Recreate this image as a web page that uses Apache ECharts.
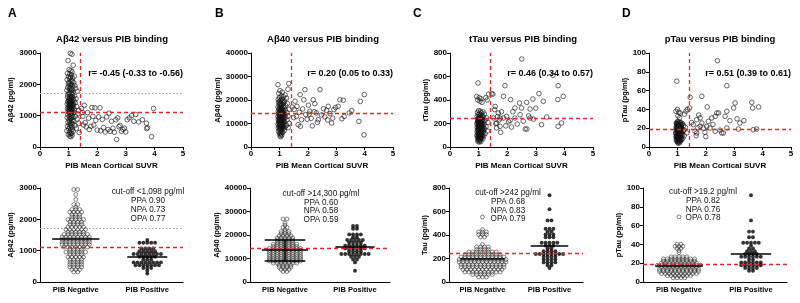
<!DOCTYPE html>
<html>
<head>
<meta charset="utf-8">
<script src="https://cdn.jsdelivr.net/npm/echarts@6/dist/echarts.min.js"></script>
<style>
html, body { margin: 0; padding: 0; background: #fff; }
#chart { width: 800px; height: 303px; }
</style>
</head>
<body>
<div id="chart"></div>
<script>
// ---- data: [PIB SUVR, value] ----
var ab42Neg = [[1.06,2990],[1.12,2960],[0.98,2760],[1.16,2610],[1.02,2470],[1.08,2440],[1.12,2400],[0.96,2350],[1.04,2330],[1.10,2300],[1.00,2250],[1.07,2230],[1.14,2200],[1.20,2260],[1.03,2180],[0.95,2150],[1.09,2120],[1.13,2100],[1.01,2070],[1.18,2050],[1.05,2030],[0.99,2010],[1.11,1990],[1.06,1970],[1.22,1960],[1.02,1940],[1.15,1920],[0.97,1900],[1.08,1880],[1.25,1870],[1.04,1850],[1.12,1830],[0.94,1810],[1.10,1790],[1.30,1780],[1.06,1760],[1.01,1740],[1.17,1730],[1.09,1710],[1.03,1690],[1.14,1680],[0.98,1660],[1.07,1650],[1.21,1640],[1.05,1620],[1.11,1610],[0.96,1590],[1.13,1580],[1.02,1560],[1.08,1550],[1.26,1540],[1.04,1530],[1.16,1520],[1.00,1500],[1.10,1490],[1.06,1480],[1.19,1470],[1.03,1460],[0.97,1450],[1.12,1440],[1.08,1430],[1.05,1420],[1.23,1410],[1.01,1400],[1.14,1390],[1.07,1380],[0.95,1370],[1.10,1360],[1.04,1350],[1.17,1340],[1.09,1330],[1.02,1320],[1.13,1310],[1.06,1300],[1.28,1290],[0.99,1280],[1.11,1270],[1.05,1260],[1.15,1250],[1.03,1240],[1.08,1230],[0.96,1220],[1.20,1210],[1.12,1200],[1.06,1190],[1.01,1180],[1.09,1170],[1.35,1160],[1.04,1150],[1.14,1140],[0.98,1130],[1.07,1120],[1.18,1110],[1.02,1100],[1.10,1080],[1.32,1060],[1.05,1050],[0.97,1030],[1.13,1010],[1.08,990],[1.24,980],[1.03,960],[1.15,950],[0.95,940],[1.10,920],[1.06,900],[1.30,890],[1.01,870],[1.12,850],[1.18,830],[1.04,810],[0.98,790],[1.09,770],[1.36,760],[1.14,740],[1.02,720],[1.07,700],[1.22,680],[0.96,660],[1.11,640],[1.05,620],[1.27,600],[1.00,580],[1.13,560],[1.08,540],[0.94,520],[1.16,500],[1.03,480],[1.37,460],[1.10,440],[1.06,420],[0.99,400],[1.12,380],[1.04,350],[1.08,330]];
var ab42Pos = [[1.45,1230],[1.50,980],[1.55,1330],[1.58,780],[1.62,640],[1.66,1100],[1.70,920],[1.72,560],[1.78,660],[1.82,1260],[1.85,980],[1.88,700],[1.92,1250],[1.95,850],[2.00,540],[2.05,960],[2.10,1250],[2.12,520],[2.18,880],[2.22,620],[2.28,480],[2.33,960],[2.38,560],[2.42,1080],[2.45,500],[2.50,820],[2.55,600],[2.60,470],[2.65,870],[2.68,240],[2.72,930],[2.76,650],[2.80,690],[2.85,500],[2.90,560],[2.95,600],[3.00,480],[3.05,870],[3.12,930],[3.20,1000],[3.28,820],[3.35,1040],[3.45,800],[3.58,870],[3.72,760],[3.73,590],[3.76,620],[3.90,330],[3.97,1230],[1.48,1100],[1.52,700]];

var ab40Neg = [[0.95,26500],[1.33,27000],[1.30,24600],[1.02,24000],[1.10,23300],[0.98,22800],[1.20,22200],[1.06,21800],[1.14,21400],[1.00,21000],[1.25,20800],[1.08,20500],[0.96,20200],[1.12,20000],[1.04,19800],[1.18,19600],[1.01,19400],[1.09,19200],[0.97,19000],[1.15,18800],[1.05,18600],[1.28,18500],[1.02,18300],[1.11,18100],[0.99,17900],[1.07,17700],[1.22,17600],[1.03,17400],[1.13,17200],[0.95,17000],[1.06,16900],[1.17,16700],[1.01,16500],[1.09,16400],[1.04,16200],[1.35,16100],[0.98,16000],[1.12,15800],[1.06,15700],[1.20,15600],[1.02,15400],[1.08,15300],[0.96,15200],[1.14,15100],[1.04,15000],[1.10,14800],[1.00,14700],[1.26,14600],[1.06,14500],[1.16,14400],[1.02,14300],[0.97,14200],[1.09,14100],[1.05,14000],[1.13,13900],[1.01,13800],[1.07,13700],[1.19,13600],[0.99,13500],[1.11,13400],[1.04,13300],[1.08,13200],[1.30,13100],[0.95,13000],[1.14,12900],[1.03,12800],[1.06,12700],[1.22,12600],[1.00,12500],[1.10,12400],[1.05,12300],[0.98,12200],[1.16,12100],[1.02,12000],[1.08,11900],[1.12,11800],[1.04,11700],[0.96,11600],[1.27,11500],[1.07,11400],[1.01,11300],[1.15,11200],[1.05,11100],[0.99,11000],[1.10,10900],[1.03,10800],[1.18,10700],[1.06,10600],[0.97,10500],[1.13,10400],[1.02,10300],[1.09,10200],[1.34,10100],[1.04,10000],[1.00,9900],[1.12,9800],[1.07,9700],[0.95,9600],[1.16,9500],[1.03,9400],[1.09,9300],[1.25,9200],[1.01,9100],[1.06,9000],[1.11,8900],[0.98,8800],[1.14,8700],[1.04,8600],[1.20,8500],[1.02,8400],[1.08,8300],[1.31,8200],[0.96,8100],[1.10,8000],[1.05,7800],[1.13,7600],[1.00,7400],[1.07,7200],[1.17,7000],[1.03,6800],[0.97,6600],[1.09,6400],[1.12,6200],[1.04,6000],[1.01,5700],[1.06,5400],[1.08,5000],[1.02,4700],[1.05,4400]];
var ab40Pos = [[1.45,17000],[1.50,12500],[1.55,19500],[1.60,13000],[1.62,17300],[1.66,9500],[1.70,14800],[1.73,22300],[1.74,8800],[1.78,11600],[1.82,16200],[1.86,20100],[1.90,24400],[1.93,13800],[1.98,11800],[2.02,17800],[2.07,15200],[2.12,12200],[2.16,9000],[2.19,20100],[2.22,15000],[2.25,18400],[2.30,14500],[2.34,10500],[2.37,11600],[2.43,24400],[2.48,13600],[2.55,16300],[2.60,12800],[2.66,15600],[2.72,17300],[2.78,14200],[2.84,10200],[2.88,12300],[2.92,15900],[2.98,16800],[3.07,17300],[3.13,20100],[3.20,12000],[3.25,19900],[3.28,13000],[3.46,14500],[3.55,15500],[3.80,10900],[3.85,19400],[3.99,22300],[3.98,5200],[1.52,16000],[2.05,14000],[2.70,11500]];

var tauNeg = [[0.98,545],[0.93,430],[1.02,420],[1.08,410],[0.97,400],[1.25,420],[1.30,400],[1.05,390],[1.12,380],[1.35,450],[1.00,310],[1.06,305],[1.15,300],[0.96,295],[1.10,290],[1.03,285],[1.20,280],[0.99,275],[1.08,270],[1.13,265],[1.04,262],[0.95,258],[1.17,255],[1.01,252],[1.07,250],[1.28,248],[1.02,245],[1.11,242],[0.97,240],[1.06,238],[1.14,235],[1.00,232],[1.09,230],[1.04,228],[1.22,226],[0.98,224],[1.12,222],[1.05,220],[1.01,218],[1.16,216],[0.96,214],[1.08,212],[1.03,210],[1.33,208],[1.10,206],[0.99,204],[1.06,202],[1.13,200],[1.02,198],[0.94,196],[1.07,194],[1.19,192],[1.04,190],[1.00,188],[1.11,186],[1.05,184],[0.97,182],[1.15,180],[1.02,178],[1.08,176],[1.26,174],[1.01,172],[1.12,170],[0.95,168],[1.06,166],[1.03,164],[1.17,162],[0.99,160],[1.09,158],[1.04,156],[1.21,154],[1.00,152],[1.10,150],[0.96,148],[1.07,146],[1.14,144],[1.02,142],[1.05,140],[0.98,138],[1.31,136],[1.11,134],[1.03,132],[1.08,130],[0.95,128],[1.16,126],[1.01,124],[1.06,122],[1.12,120],[0.99,118],[1.04,116],[1.23,114],[1.09,112],[0.97,110],[1.02,108],[1.14,106],[1.06,104],[1.00,102],[1.10,100],[0.94,98],[1.05,96],[1.18,94],[1.02,92],[1.08,90],[0.98,88],[1.12,86],[1.04,84],[1.00,82],[1.07,80],[0.96,78],[1.10,75],[1.03,72],[1.15,70],[0.99,66],[1.06,62],[1.01,58],[1.04,54],[0.97,50],[1.08,46],[1.02,42],[1.05,205],[1.09,185],[1.01,165],[1.13,145],[0.97,215],[1.07,175],[1.03,195],[1.11,155],[0.99,235],[1.05,125]];
var tauPos = [[1.46,454],[1.50,450],[1.52,247],[1.56,318],[1.60,200],[1.63,204],[1.63,162],[1.66,260],[1.69,289],[1.72,230],[1.75,176],[1.75,247],[1.77,125],[1.80,300],[1.87,431],[1.87,247],[1.92,522],[1.95,180],[1.98,261],[2.05,215],[2.10,227],[2.12,403],[2.15,170],[2.20,300],[2.27,332],[2.27,247],[2.35,195],[2.43,374],[2.45,275],[2.50,332],[2.51,749],[2.56,220],[2.63,153],[2.69,153],[2.68,380],[2.75,265],[2.80,323],[2.80,247],[2.90,408],[2.92,238],[3.11,454],[3.20,190],[3.26,389],[3.38,255],[3.60,610],[3.77,403],[3.78,522],[3.78,176],[3.90,204],[3.96,431],[3.00,330],[1.58,345]];

var ptauNeg = [[0.98,70],[1.00,40],[0.95,38],[1.05,37],[1.10,36],[1.30,38],[1.02,33],[1.08,31],[1.25,35],[1.35,40],[1.00,27],[1.06,26.5],[1.12,26],[0.96,25.5],[1.03,25],[1.18,24.8],[0.99,24.4],[1.08,24],[1.14,23.6],[1.02,23.2],[1.22,22.8],[0.97,22.4],[1.05,22],[1.10,21.7],[1.00,21.4],[1.28,21],[1.07,20.7],[0.95,20.4],[1.13,20.1],[1.03,19.8],[1.09,19.5],[0.99,19.2],[1.16,18.9],[1.04,18.6],[1.01,18.3],[1.11,18],[0.96,17.7],[1.06,17.4],[1.20,17.1],[1.02,16.8],[1.08,16.5],[0.98,16.2],[1.14,15.9],[1.04,15.6],[1.00,15.3],[1.33,15],[1.07,14.7],[0.94,14.4],[1.12,14.1],[1.03,13.8],[1.09,13.5],[0.99,13.2],[1.17,12.9],[1.05,12.6],[1.01,12.3],[1.24,12],[0.97,11.7],[1.10,11.4],[1.03,11.1],[1.07,10.8],[0.95,10.5],[1.13,10.2],[1.00,9.9],[1.06,9.6],[1.19,9.3],[1.02,9],[0.98,8.7],[1.09,8.4],[1.04,8.1],[1.15,7.8],[1.00,7.5],[0.96,7.2],[1.07,6.9],[1.03,6.6],[1.11,6.3],[0.99,6],[1.05,5.5],[1.01,5],[1.08,4.5],[1.03,4],[1.02,26.8],[1.09,25.8],[0.97,24.9],[1.15,23.9],[1.04,22.9],[1.00,21.9],[1.12,20.9],[0.98,19.9],[1.06,18.9],[1.23,17.9],[1.01,16.9],[1.10,15.9],[0.95,14.9],[1.05,13.9],[1.14,12.9],[1.02,11.9],[1.08,10.9],[0.99,9.9],[1.04,8.9],[1.12,7.9],[1.06,20.2],[1.00,18.1],[1.03,16.1],[1.09,14.2],[0.97,12.2],[1.07,10.1],[1.13,22.1],[1.01,24.1]];
var ptauPos = [[1.43,41.5],[1.45,52.8],[1.50,26],[1.56,23.8],[1.62,16.7],[1.66,12],[1.68,14.9],[1.68,29],[1.72,20.5],[1.80,30.9],[1.80,22],[1.86,25.5],[1.86,53.9],[1.92,20.2],[1.97,15.6],[2.03,22],[2.05,42.6],[2.09,27.3],[2.15,20.2],[2.21,30.9],[2.25,24],[2.33,32.6],[2.33,16.7],[2.39,36.2],[2.41,91.8],[2.45,36.2],[2.56,14.9],[2.62,14.9],[2.68,32.6],[2.74,38],[2.74,65.2],[2.74,20.2],[2.85,28],[2.98,41.5],[3.03,46.8],[3.10,30],[3.15,19.1],[3.20,25.5],[3.34,28],[3.62,47.5],[3.65,41.5],[3.67,18.4],[3.79,19.1],[3.86,42.6],[2.50,18],[1.75,34],[2.00,11]];

var titles = ['A\u03b242 versus PIB binding', 'A\u03b240 versus PIB binding', 'tTau versus PIB binding', 'pTau versus PIB binding'];
var topYNames = ['A\u03b242 (pg/ml)', 'A\u03b240 (pg/ml)', 'tTau (pg/ml)', 'pTau (pg/ml)'];
var botYNames = ['A\u03b242 (pg/ml)', 'A\u03b240 (pg/ml)', 'Tau (pg/ml)', 'pTau (pg/ml)'];
var rTexts = ['r= -0.45 (-0.33 to -0.56)', 'r= 0.20 (0.05 to 0.33)', 'r= 0.46 (0.34 to 0.57)', 'r= 0.51 (0.39 to 0.61)'];
var cutTexts = [
	['cut-off <1,098 pg/ml', 'PPA 0.90', 'NPA 0.73', 'OPA 0.77'],
	['cut-off >14,300 pg/ml', 'PPA 0.60', 'NPA 0.58', 'OPA 0.59'],
	['cut-off >242 pg/ml', 'PPA 0.68', 'NPA 0.83', 'OPA 0.79'],
	['cut-off >19.2 pg/ml', 'PPA 0.82', 'NPA 0.76', 'OPA 0.78']
];
var letters = ['A', 'B', 'C', 'D'];
var groups = ['PIB Negative', 'PIB Positive'];
var yMax = [3000, 40000, 800, 100];
var yStep = [1000, 10000, 200, 20];
var cutoffs = [1098, 14300, 242, 19.2];
var greyLines = [1700, null, null, null];
var suvrCut = 1.4;
var negMeans = [1390, 13700, 195, 17];
var posMeans = [800, 15200, 306, 30.5];
var ab40NegSD = [8840, 18000];

var negData = [ab42Neg, ab40Neg, tauNeg, ptauNeg];
var posData = [ab42Pos, ab40Pos, tauPos, ptauPos];

// ---- layout ----
var FONT = 'Liberation Sans';
var RED = '#e8262b';
var topGrid = [[40, 143], [251, 142], [450, 143], [649, 142]];
var botGrid = [[40, 143], [250, 140], [449, 134], [643, 144]];
var topY = 53, botY = 188, gridH = 94;
var negRowPx = [2.5, 2.1, 2.5, 2.1];

// dot plot: values binned into rows, each row spread sideways from the centre
function swarm(vals, center, bin, step) {
	var rows = {};
	vals.slice().sort(function (a, b) { return a - b; }).forEach(function (v) {
		var k = Math.round(v / bin);
		(rows[k] = rows[k] || []).push(v);
	});
	var out = [];
	Object.keys(rows).forEach(function (k) {
		var r = rows[k], n = r.length;
		r.forEach(function (v, i) {
			var off;
			if (n % 2) off = Math.ceil(i / 2) * (i % 2 ? 1 : -1);
			else off = (i % 2 ? 1 : -1) * (Math.floor(i / 2) + 0.5);
			out.push([center + off * step, k * bin]);
		});
	});
	return out;
}

function yAxisOf(i, gridIndex, name) {
	return {
		type: 'value', gridIndex: gridIndex, min: 0, max: yMax[i], interval: yStep[i],
		name: name, nameLocation: 'middle', nameGap: 20,
		nameTextStyle: { fontFamily: FONT, fontWeight: 'bold', fontSize: 7.5, color: '#000' },
		splitLine: { show: false },
		axisLine: { show: true, onZero: false, lineStyle: { color: '#000', width: 1 } },
		axisTick: { show: true, length: 3, lineStyle: { color: '#000' } },
		axisLabel: { fontFamily: FONT, fontWeight: 'bold', fontSize: 8, color: '#000', margin: 3,
			formatter: function (v) { return String(v); } }
	};
}

var grids = [], xAxes = [], yAxes = [], series = [], graphics = [];
var lineDash = { color: RED, type: [4, 3], width: 1.3, opacity: 1 };
var lineGrey = { color: '#9a9a9a', type: [1.5, 2], width: 1 };
var markBase = { silent: true, symbol: ['none', 'none'], label: { show: false }, animation: false,
	lineStyle: lineDash, emphasis: { disabled: true } };

for (var i = 0; i < 4; i++) {
	// ---- top scatter ----
	var g = grids.length;
	grids.push({ left: topGrid[i][0], top: topY, width: topGrid[i][1], height: gridH });
	xAxes.push({
		type: 'value', gridIndex: g, min: 0, max: 5, interval: 1,
		name: 'PIB Mean Cortical SUVR', nameLocation: 'middle', nameGap: 15,
		nameTextStyle: { fontFamily: FONT, fontWeight: 'bold', fontSize: 8, color: '#000' },
		splitLine: { show: false },
		axisLine: { onZero: false, lineStyle: { color: '#000', width: 1 } },
		axisTick: { length: 3, lineStyle: { color: '#000' } },
		axisLabel: { fontFamily: FONT, fontWeight: 'bold', fontSize: 8, color: '#000', margin: 3 }
	});
	yAxes.push(yAxisOf(i, g, topYNames[i]));
	var topLines = [{ xAxis: suvrCut, lineStyle: lineDash }, { yAxis: cutoffs[i], lineStyle: lineDash }];
	if (greyLines[i] !== null) topLines.push({ yAxis: greyLines[i], lineStyle: lineGrey });
	series.push({
		type: 'scatter', xAxisIndex: xAxes.length - 1, yAxisIndex: yAxes.length - 1,
		data: negData[i].concat(posData[i]), symbolSize: 4.6, silent: true,
		itemStyle: { color: 'rgba(0,0,0,0)', borderColor: '#111', borderWidth: 0.8 },
		markLine: Object.assign({}, markBase, { data: topLines }),
		z: 3
	});

	// ---- bottom dot plot ----
	g = grids.length;
	grids.push({ left: botGrid[i][0], top: botY, width: botGrid[i][1], height: gridH });
	xAxes.push({
		type: 'category', gridIndex: g, data: groups,
		axisLine: { onZero: false, lineStyle: { color: '#000', width: 1 } },
		axisTick: { alignWithLabel: true, length: 3, lineStyle: { color: '#000' } },
		axisLabel: { fontFamily: FONT, fontWeight: 'bold', fontSize: 7.5, color: '#000', margin: 4 }
	});
	xAxes.push({ type: 'value', gridIndex: g, min: -0.5, max: 1.5, show: false,
		axisLine: { show: false, onZero: false } });
	var valAxis = xAxes.length - 1;
	yAxes.push(yAxisOf(i, g, botYNames[i]));
	var yIdx = yAxes.length - 1;
	var negBin = yMax[i] * negRowPx[i] / gridH;
	var posBin = yMax[i] * 2.8 / gridH;
	var step = 3.9 * 2 / botGrid[i][1];
	var negVals = negData[i].map(function (d) { return d[1]; });
	var posVals = posData[i].map(function (d) { return d[1]; });

	var botLines = [{ yAxis: cutoffs[i], lineStyle: lineDash }];
	if (greyLines[i] !== null) botLines.push({ yAxis: greyLines[i], lineStyle: lineGrey });
	var black = { color: '#000', type: 'solid', width: 1.5 };
	botLines.push([{ coord: [-0.33, negMeans[i]], lineStyle: black }, { coord: [0.33, negMeans[i]] }]);
	botLines.push([{ coord: [0.72, posMeans[i]], lineStyle: black }, { coord: [1.28, posMeans[i]] }]);
	if (i === 1) {
		botLines.push([{ coord: [0, ab40NegSD[0]], lineStyle: black }, { coord: [0, ab40NegSD[1]] }]);
		botLines.push([{ coord: [-0.29, ab40NegSD[0]], lineStyle: black }, { coord: [0.29, ab40NegSD[0]] }]);
		botLines.push([{ coord: [-0.29, ab40NegSD[1]], lineStyle: black }, { coord: [0.29, ab40NegSD[1]] }]);
	}
	series.push({
		type: 'scatter', xAxisIndex: valAxis, yAxisIndex: yIdx,
		data: swarm(negVals, 0, negBin, step), symbolSize: 3.9, silent: true,
		itemStyle: { color: 'rgba(0,0,0,0)', borderColor: '#222', borderWidth: 0.7 }, z: 3
	});
	series.push({
		type: 'scatter', xAxisIndex: valAxis, yAxisIndex: yIdx,
		data: swarm(posVals, 1, posBin, step), symbolSize: 3.9, silent: true,
		itemStyle: { color: '#000' }, z: 3,
		markLine: Object.assign({}, markBase, { data: botLines })
	});

	// ---- texts ----
	var x0 = topGrid[i][0], w = topGrid[i][1];
	graphics.push({ type: 'text', x: [8, 215, 413, 622][i], y: 14,
		style: { text: letters[i], font: 'bold 12px ' + FONT, fill: '#000', verticalAlign: 'middle', textVerticalAlign: 'middle' } });
	graphics.push({ type: 'text', x: [112, 323, 523, 720][i], y: 39,
		style: { text: titles[i], font: 'bold 9.5px ' + FONT, fill: '#000', align: 'center', textAlign: 'center', verticalAlign: 'middle', textVerticalAlign: 'middle' } });
	graphics.push({ type: 'text', x: x0 + w, y: 74,
		style: { text: rTexts[i], font: 'bold 9px ' + FONT, fill: '#000', align: 'right', textAlign: 'right', verticalAlign: 'middle', textVerticalAlign: 'middle' } });
	var cx = [148, 321, 508, 703][i], cy = [192, 193.5, 192.7, 191.7][i];
	cutTexts[i].forEach(function (t, k) {
		graphics.push({ type: 'text', x: cx, y: cy + k * 8.8,
			style: { text: t, font: '8.2px ' + FONT, fill: '#111', align: 'center', textAlign: 'center', verticalAlign: 'middle', textVerticalAlign: 'middle' } });
	});
}

var chart = echarts.init(document.getElementById('chart'), null, { renderer: 'canvas' });
chart.setOption({
	animation: false,
	backgroundColor: '#fff',
	grid: grids,
	xAxis: xAxes,
	yAxis: yAxes,
	series: series,
	graphic: graphics
});
</script>
</body>
</html>
